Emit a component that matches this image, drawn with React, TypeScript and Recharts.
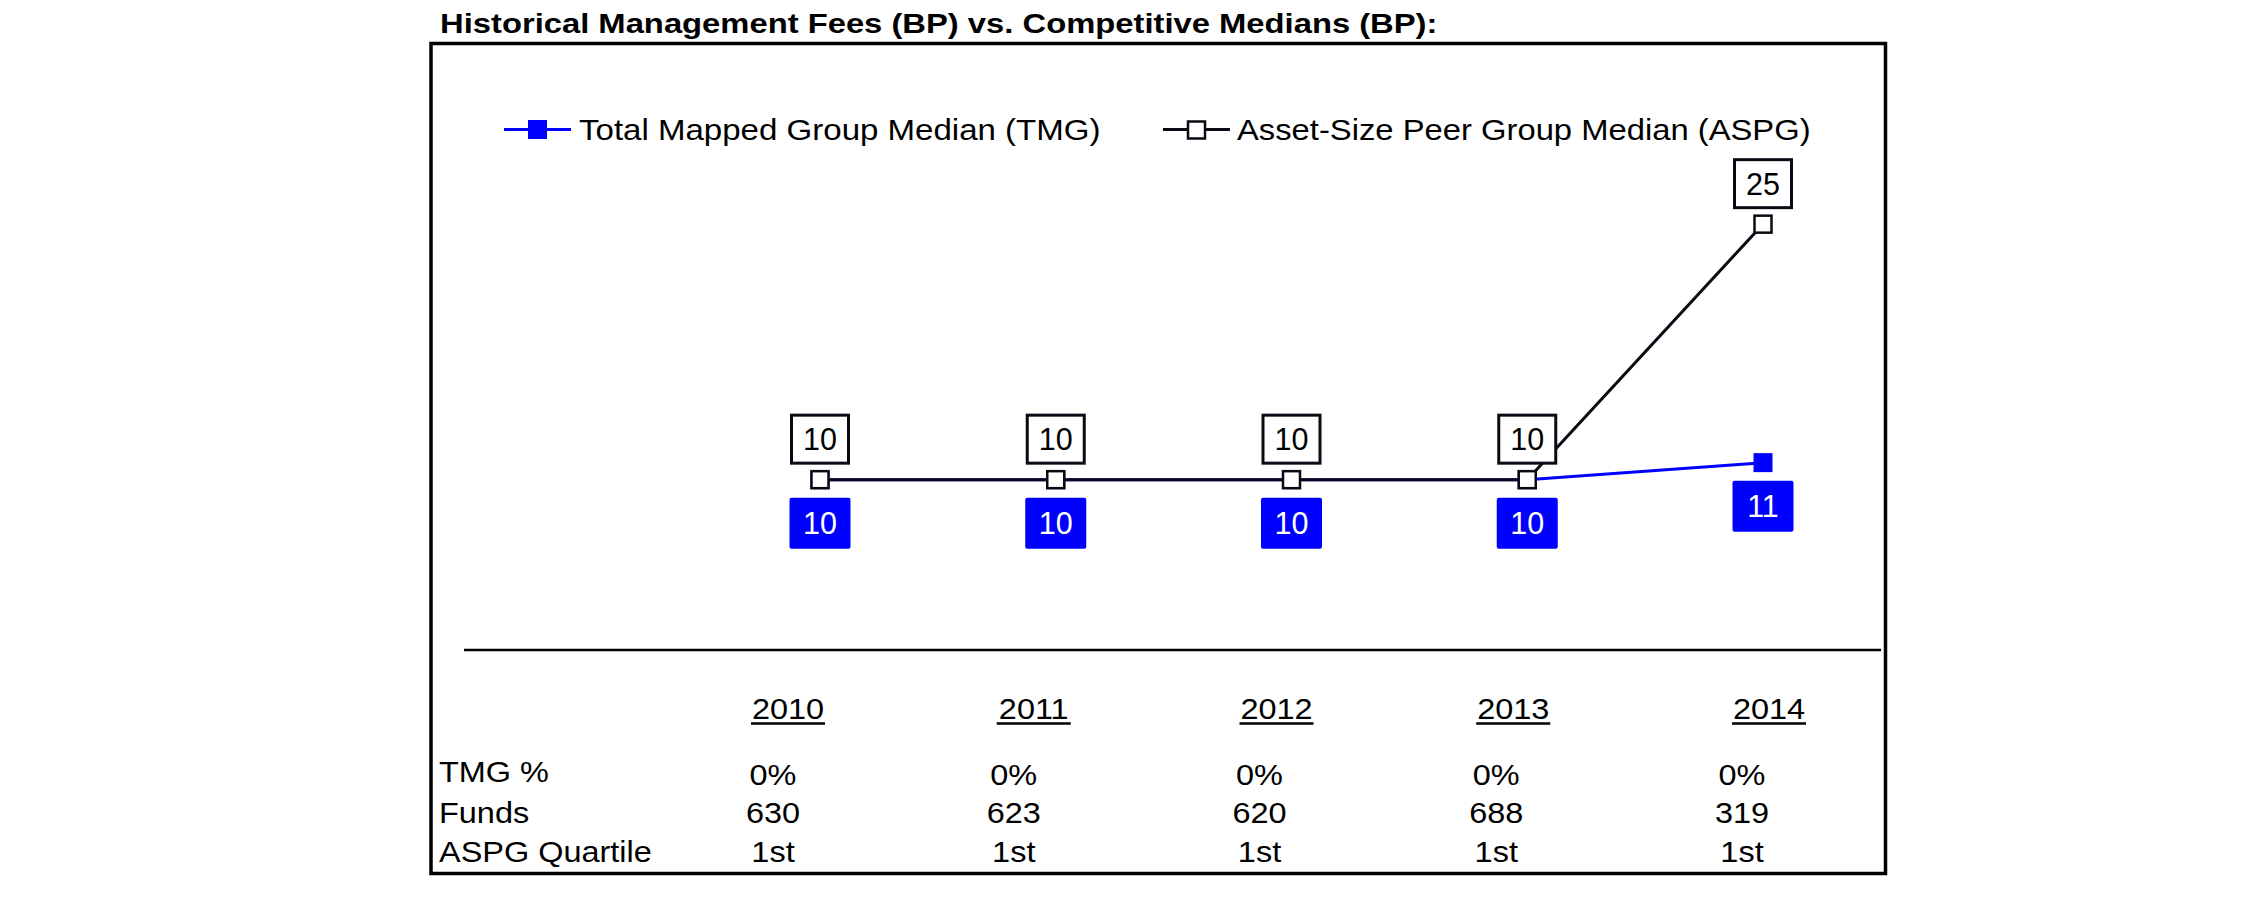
import React from "react";
import { LineChart, Line, XAxis, YAxis, Legend, LabelList } from "recharts";

const years = ["2010", "2011", "2012", "2013", "2014"];
const tmgMedian = [10, 10, 10, 10, 11];
const aspgMedian = [10, 10, 10, 10, 25];
const tmgPct = ["0%", "0%", "0%", "0%", "0%"];
const funds = ["630", "623", "620", "688", "319"];
const aspgQuartile = ["1st", "1st", "1st", "1st", "1st"];
const rowLabels = ["TMG %", "Funds", "ASPG Quartile"];
const title = "Historical Management Fees (BP) vs. Competitive Medians (BP):";
const tmgName = "Total Mapped Group Median (TMG)";
const aspgName = "Asset-Size Peer Group Median (ASPG)";

const data = years.map((year, i) => ({ year, tmg: tmgMedian[i], aspg: aspgMedian[i] }));

const W = 2251;
const H = 898;
const FONT = '"Liberation Sans", Arial, Helvetica, sans-serif';
const BLUE = "#0000ff";
const INK = "#0a0a14";

// table columns don't sit exactly under the points in the original
const yearShift = [-32, -22, -15, -14, 6];
const valueShift = [-47, -42, -32, -31, -21];
const rowOffsets = [135, 173, 212];

function Txt({ x, y, sx = 1.12, size = 29, anchor = "start", weight = 400, fill = "#000", children }: any) {
  return (
    <text
      transform={`translate(${x} ${y}) scale(${sx} 1)`}
      textAnchor={anchor}
      fontSize={size}
      fontWeight={weight}
      fontFamily={FONT}
      fill={fill}
    >
      {children}
    </text>
  );
}

function TableTick(props: any) {
  const { x, y, payload } = props;
  const i = props.index ?? payload.index;
  const yx = x + yearShift[i];
  const vx = x + valueShift[i];
  const rows = [tmgPct[i], funds[i], aspgQuartile[i]];
  return (
    <g>
      <Txt x={yx} y={y + 69} anchor="middle">{payload.value}</Txt>
      <line x1={yx - 37} x2={yx + 37} y1={y + 73.5} y2={y + 73.5} stroke="#000" strokeWidth={2.5} />
      {rows.map((r, k) => (
        <Txt key={k} x={vx} y={y + rowOffsets[k]} anchor="middle">{r}</Txt>
      ))}
    </g>
  );
}

function AspgDot(p: any) {
  return <rect key={`ad-${p.index}`} x={p.cx - 8.5} y={p.cy - 8.5} width={17} height={17} fill="#fff" stroke={INK} strokeWidth={2.5} />;
}

function TmgDot(p: any) {
  return <rect key={`td-${p.index}`} x={p.cx - 9.5} y={p.cy - 9.5} width={19} height={19} fill={BLUE} />;
}

function AspgLabel(p: any) {
  const { x, y, value } = p;
  return (
    <g>
      <rect x={x - 28.5} y={y - 64.5} width={57} height={48} fill="#fff" stroke={INK} strokeWidth={3} />
      <text x={x} y={y - 29.5} textAnchor="middle" fontSize={30.5} fontFamily={FONT} fill="#000">{value}</text>
    </g>
  );
}

function TmgLabel(p: any) {
  const { x, y, value } = p;
  return (
    <g>
      <rect x={x - 30.5} y={y + 18} width={61} height={51} rx={2} fill={BLUE} />
      <text x={x} y={y + 54.5} textAnchor="middle" fontSize={30.5} fontFamily={FONT} fill="#fff">{value}</text>
    </g>
  );
}

const legendSpots: Record<string, { lx: number; tx: number; sx: number }> = {
  tmg: { lx: 504, tx: 579, sx: 1.14 },
  aspg: { lx: 1163, tx: 1237, sx: 1.13 },
};

function LegendBox({ payload }: any) {
  return (
    <svg width={W} height={160} style={{ display: "block" }}>
      {(payload || []).map((entry: any, i: number) => {
        const hollow = entry.dataKey === "aspg";
        const s = legendSpots[hollow ? "aspg" : "tmg"];
        return (
          <g key={i}>
            <line x1={s.lx} x2={s.lx + 67} y1={129.5} y2={129.5} stroke={hollow ? INK : BLUE} strokeWidth={3} />
            {hollow ? (
              <rect x={s.lx + 25} y={121.5} width={17} height={17} fill="#fff" stroke={INK} strokeWidth={2.5} />
            ) : (
              <rect x={s.lx + 24} y={120} width={19} height={19} fill={BLUE} />
            )}
            <Txt x={s.tx} y={139.5} sx={s.sx}>{entry.value}</Txt>
          </g>
        );
      })}
    </svg>
  );
}

export default function App() {
  return (
    <div style={{ position: "absolute", left: 0, top: 0, width: W, height: H, background: "#fff" }}>
      <LineChart width={W} height={H} data={data} margin={{ top: 139, right: 370, bottom: 18, left: 464 }}>
        <XAxis
          dataKey="year"
          padding={{ left: 356, right: 118 }}
          axisLine={{ stroke: "#000", strokeWidth: 2.7 }}
          tickLine={false}
          tickSize={0}
          tickMargin={0}
          height={230}
          interval={0}
          tick={(p: any) => <TableTick {...p} />}
        />
        <YAxis hide domain={[0, 30]} />
        <Legend
          layout="horizontal"
          verticalAlign="middle"
          align="center"
          wrapperStyle={{ left: 0, top: 0, width: W, height: 160 }}
          content={(p: any) => <LegendBox {...p} />}
        />
        <Line
          dataKey="tmg"
          name={tmgName}
          stroke={BLUE}
          strokeWidth={3}
          dot={TmgDot}
          activeDot={false}
          isAnimationActive={false}
        >
          <LabelList dataKey="tmg" content={TmgLabel} />
        </Line>
        <Line
          dataKey="aspg"
          name={aspgName}
          stroke={INK}
          strokeWidth={3}
          dot={AspgDot}
          activeDot={false}
          isAnimationActive={false}
        >
          <LabelList dataKey="aspg" content={AspgLabel} />
        </Line>
      </LineChart>
      <svg width={W} height={H} style={{ position: "absolute", left: 0, top: 0, pointerEvents: "none" }}>
        <Txt x={440} y={33} size={28} weight={700} sx={1.17}>{title}</Txt>
        <rect x={431} y={43.5} width={1454.5} height={830} fill="none" stroke="#000" strokeWidth={3.5} />
        {rowLabels.map((r, k) => (
          <Txt key={k} x={439} y={650 + rowOffsets[k] - (k === 0 ? 3 : 0)}>{r}</Txt>
        ))}
      </svg>
    </div>
  );
}
